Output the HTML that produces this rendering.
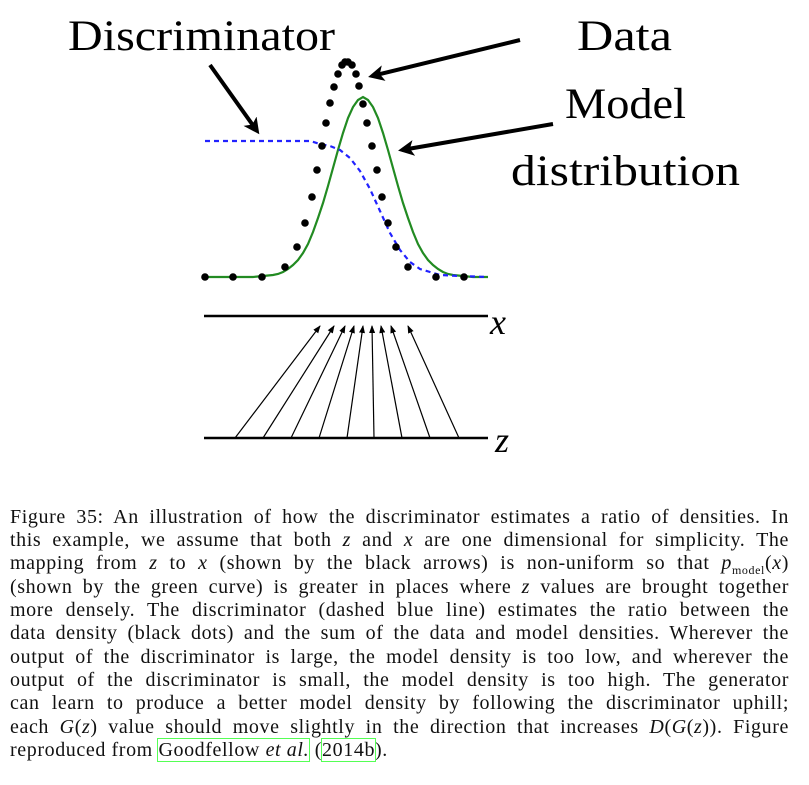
<!DOCTYPE html>
<html><head><meta charset="utf-8"><style>
body{margin:0;background:#fff;width:809px;height:785px;overflow:hidden;position:relative;font-family:"Liberation Serif",serif;}
.l{position:absolute;left:10px;width:779px;font-size:20px;letter-spacing:0.6px;line-height:23px;text-align:justify;text-align-last:justify;white-space:nowrap;color:#111}
.last{text-align-last:left}
i{font-style:italic}
.box{outline:1.5px solid #5f5;outline-offset:0}
</style></head><body>
<svg width="809" height="480" style="position:absolute;left:0;top:0" font-family="Liberation Serif, serif">
<defs><marker id="ah" markerWidth="4" markerHeight="4" refX="3" refY="2" orient="auto"><path d="M0,0 L4,2 L0,4 L1,2 z" fill="#000"/></marker>
<marker id="sh" markerWidth="8" markerHeight="6" refX="7" refY="3" orient="auto" markerUnits="userSpaceOnUse"><path d="M0,0 L8,3 L0,6 z" fill="#000"/></marker></defs>
<text x="68" y="50" font-size="43" textLength="267" lengthAdjust="spacingAndGlyphs">Discriminator</text>
<text x="577" y="50" font-size="43" textLength="95" lengthAdjust="spacingAndGlyphs">Data</text>
<text x="565" y="118" font-size="43" textLength="121" lengthAdjust="spacingAndGlyphs">Model</text>
<text x="511" y="185" font-size="43" textLength="229" lengthAdjust="spacingAndGlyphs">distribution</text>
<g stroke="#000" stroke-width="4" marker-end="url(#ah)">
<line x1="210" y1="65" x2="257" y2="131"/>
<line x1="520" y1="40" x2="372" y2="76"/>
<line x1="553" y1="124" x2="402" y2="150"/>
</g>
<polyline fill="none" stroke="#228b22" stroke-width="2.2" points="205,277 253,277 263,276 268,275.5 273,275 278,274 283,272 288,269 293,265 298,260 303,253 308,244 313,232 318,218 323,203 328,186 333,168 338,150 343,133 348,118 353,107 358,100 363,97 368,100 373,107 378,118 383,133 388,150 393,168 398,186 403,203 408,218 413,232 418,244 423,253 428,260 433,265 438,269 443,272 448,274 453,275 463,276 473,277 488,277" />
<polyline fill="none" stroke="#22f" stroke-width="2.2" stroke-dasharray="5,4" points="205,141 310,141 320,144 330,146 340,150 350,158 360,171 370,189 380,211 390,233 400,250 410,262 420,269 430,272 440,275 460,276 488,277"/>
<g fill="#000">
<circle cx="205" cy="277" r="3.8"/><circle cx="233" cy="277" r="3.8"/><circle cx="262" cy="277" r="3.8"/><circle cx="285" cy="267" r="3.8"/><circle cx="297" cy="247" r="3.8"/><circle cx="305" cy="223" r="3.8"/><circle cx="312" cy="197" r="3.8"/><circle cx="317" cy="170" r="3.8"/><circle cx="322" cy="146" r="3.8"/><circle cx="326" cy="123" r="3.8"/><circle cx="330" cy="103" r="3.8"/><circle cx="334" cy="87" r="3.8"/><circle cx="338" cy="74" r="3.8"/><circle cx="342" cy="65" r="3.8"/><circle cx="345" cy="62" r="3.8"/><circle cx="348" cy="62" r="3.8"/><circle cx="352" cy="65" r="3.8"/><circle cx="356" cy="74" r="3.8"/><circle cx="359" cy="86" r="3.8"/><circle cx="363" cy="104" r="3.8"/><circle cx="367" cy="123" r="3.8"/><circle cx="372" cy="146" r="3.8"/><circle cx="377" cy="170" r="3.8"/><circle cx="382" cy="197" r="3.8"/><circle cx="388" cy="223" r="3.8"/><circle cx="396" cy="247" r="3.8"/><circle cx="408" cy="267" r="3.8"/><circle cx="436" cy="277" r="3.8"/><circle cx="464" cy="277" r="3.8"/>
</g>
<line x1="204" y1="316" x2="488" y2="316" stroke="#000" stroke-width="2.5"/>
<line x1="204" y1="438" x2="488" y2="438" stroke="#000" stroke-width="2.5"/>
<text x="490" y="334" font-size="36" font-style="italic">x</text>
<text x="495" y="452" font-size="36" font-style="italic">z</text>
<g stroke="#000" stroke-width="1.2" marker-end="url(#sh)">
<line x1="235" y1="438" x2="320" y2="326"/><line x1="263" y1="438" x2="334" y2="326"/><line x1="291" y1="438" x2="345" y2="326"/><line x1="319" y1="438" x2="354" y2="326"/><line x1="347" y1="438" x2="363" y2="326"/><line x1="374" y1="438" x2="372" y2="326"/><line x1="402" y1="438" x2="381" y2="326"/><line x1="430" y1="438" x2="391" y2="326"/><line x1="459" y1="438" x2="408" y2="326"/>
</g>
</svg>
<div class="l" style="top:506px">Figure 35: An illustration of how the discriminator estimates a ratio of densities. In</div>
<div class="l" style="top:529px">this example, we assume that both <i>z</i> and <i>x</i> are one dimensional for simplicity. The</div>
<div class="l" style="top:552px">mapping from <i>z</i> to <i>x</i> (shown by the black arrows) is non-uniform so that <i>p</i><sub style="font-size:12px">model</sub>(<i>x</i>)</div>
<div class="l" style="top:576px">(shown by the green curve) is greater in places where <i>z</i> values are brought together</div>
<div class="l" style="top:599px">more densely. The discriminator (dashed blue line) estimates the ratio between the</div>
<div class="l" style="top:622px">data density (black dots) and the sum of the data and model densities. Wherever the</div>
<div class="l" style="top:646px">output of the discriminator is large, the model density is too low, and wherever the</div>
<div class="l" style="top:669px">output of the discriminator is small, the model density is too high. The generator</div>
<div class="l" style="top:692px">can learn to produce a better model density by following the discriminator uphill;</div>
<div class="l" style="top:716px">each <i>G</i>(<i>z</i>) value should move slightly in the direction that increases <i>D</i>(<i>G</i>(<i>z</i>)). Figure</div>
<div class="l last" style="top:739px">reproduced from <span class="box">Goodfellow <i>et al.</i></span> (<span class="box">2014b</span>).</div>
</body></html>
